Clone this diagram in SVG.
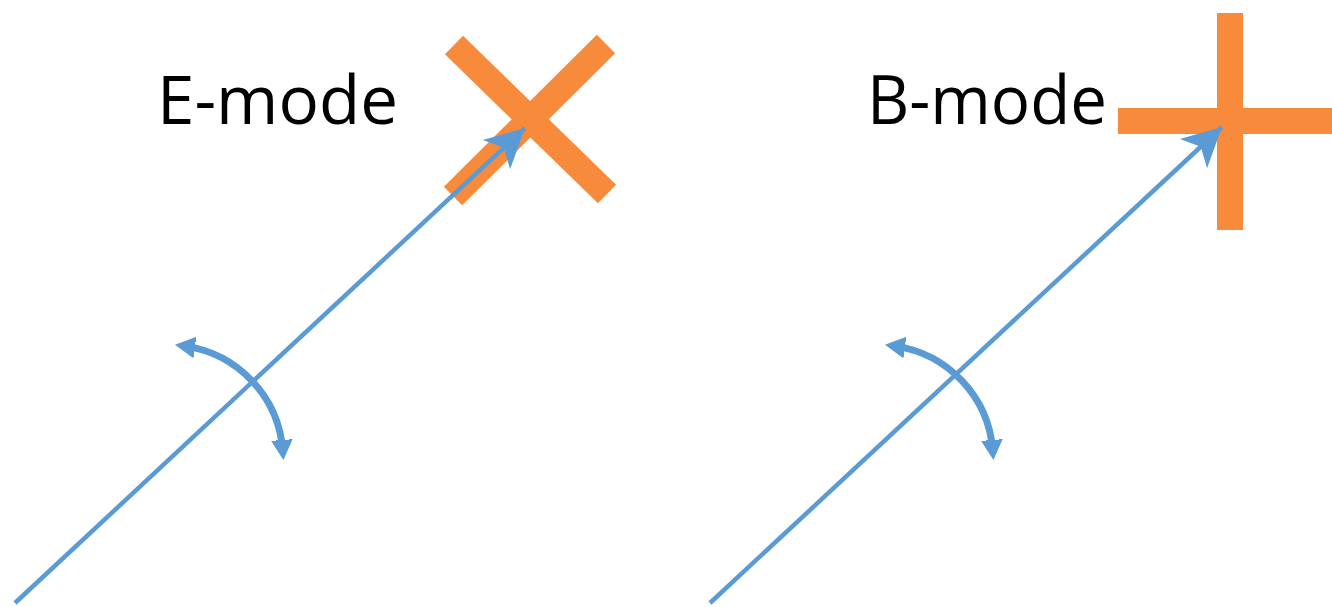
<svg xmlns="http://www.w3.org/2000/svg" width="1332" height="607" viewBox="0 0 1332 607">
  <style>
    .label { font-family: "Open Sans", "Liberation Sans", sans-serif; font-size: 68px; fill: #000; }
    .mark { stroke: #F78A3B; stroke-width: 26; fill: none; stroke-linecap: butt; }
    .beam { stroke: #5B9BD5; stroke-width: 4.5; fill: none; }
    .rot { stroke: #5B9BD5; stroke-width: 7; fill: none; }
  </style>
  <defs>
    <marker id="beamHead" markerUnits="userSpaceOnUse" viewBox="-40 -22 42 44" refX="0" refY="0" markerWidth="42" markerHeight="44" orient="auto">
      <path d="M0,0 L-39,-20 L-29,0 L-39,20 Z" fill="#5B9BD5"/>
    </marker>
    <marker id="rotHead" markerUnits="userSpaceOnUse" viewBox="-20 -16 40 32" refX="-10" refY="0" markerWidth="40" markerHeight="32" orient="auto-start-reverse">
      <path d="M0,0 L-26,-14 L-19,0 L-26,14 Z" fill="#5B9BD5"/>
    </marker>
  </defs>

  <g id="e-mode-cross">
    <line class="mark" x1="454" y1="45" x2="607" y2="194"/>
    <line class="mark" x1="606" y1="44" x2="453" y2="196"/>
  </g>
  <g id="b-mode-cross">
    <line class="mark" x1="1230" y1="13" x2="1230" y2="230"/>
    <line class="mark" x1="1118" y1="121" x2="1332" y2="121"/>
  </g>

  <g id="e-mode-label">
    <text class="label" x="157" y="124" textLength="241" lengthAdjust="spacingAndGlyphs">E-mode</text>
  </g>
  <g id="b-mode-label">
    <text class="label" x="867" y="124" textLength="240" lengthAdjust="spacingAndGlyphs">B-mode</text>
  </g>

  <g id="connectors">
    <line class="beam" x1="15" y1="603" x2="525" y2="128" marker-end="url(#beamHead)"/>
    <path class="rot" d="M184.9,346.1 A114,114 0 0 1 282.65,450.06" marker-start="url(#rotHead)" marker-end="url(#rotHead)"/>
    <line class="beam" x1="710" y1="603" x2="1222" y2="127" marker-end="url(#beamHead)"/>
    <path class="rot" d="M894.9,346.1 A114,114 0 0 1 992.65,450.06" marker-start="url(#rotHead)" marker-end="url(#rotHead)"/>
  </g>
</svg>
